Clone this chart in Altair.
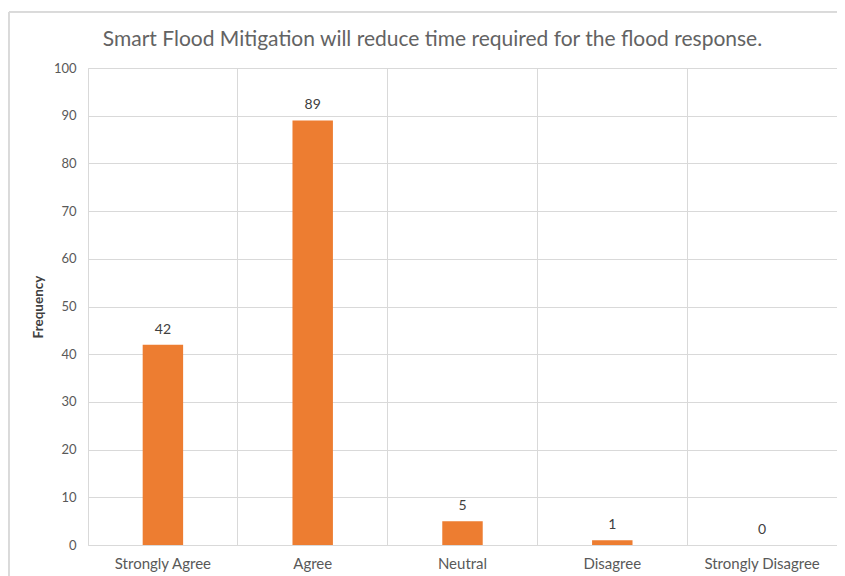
import altair as alt
import pandas as pd

categories = ["Strongly Agree", "Agree", "Neutral", "Disagree", "Strongly Disagree"]
frequency = [42, 89, 5, 1, 0]
y_ticks = list(range(0, 101, 10))

df = pd.DataFrame({"Response": categories, "Frequency": frequency})

FONT = "Lato"
W, H = 749, 477

base = alt.Chart(df).encode(
    x=alt.X(
        "Response:N",
        sort=categories,
        scale=alt.Scale(paddingInner=0, paddingOuter=0),
        axis=alt.Axis(
            title=None, labelAngle=0, domain=False, ticks=False, grid=True,
            bandPosition=0, gridColor="#d9d9d9", labelFontSize=15,
            labelColor="#595959", labelPadding=11, labelFont=FONT,
        ),
    ),
    y=alt.Y(
        "Frequency:Q",
        scale=alt.Scale(domain=[0, 100], nice=False),
        axis=alt.Axis(
            values=y_ticks, title="Frequency", titleFontSize=13.5, titleFontWeight="bold",
            titleColor="#404040", titlePadding=8, titleFont=FONT,
            domain=False, ticks=False, gridColor="#d9d9d9", labelFontSize=13,
            labelColor="#595959", labelPadding=12, labelFont=FONT,
        ),
    ),
)

# faint outer chart-area border (decoration)
frame = alt.Chart(df).mark_rect(fill=None, stroke="#d9d9d9", strokeWidth=1).encode(
    x=alt.value(-79), x2=alt.value(W + 300), y=alt.value(-56), y2=alt.value(H + 300)
)

bars = base.mark_bar(width=alt.RelativeBandSize(0.27), color="#ED7D31")
labels = base.mark_text(dy=-8, baseline="bottom", fontSize=14, color="#404040", font=FONT).encode(
    text="Frequency:Q"
)

chart = (
    alt.layer(frame, bars, labels)
    .properties(
        width=W,
        height=H,
        title=alt.TitleParams(
            "Smart Flood Mitigation will reduce time required for the flood response.",
            fontSize=21, font=FONT, color="#636363", fontWeight="normal",
            offset=-38, dx=-30, anchor="middle", frame="group",
        ),
        autosize=alt.AutoSizeParams(type="none"),
        padding={"left": 80, "top": 60, "right": 0, "bottom": 31},
    )
    .configure_view(fill="#f1f1f1", stroke="#d9d9d9")
    .configure(background="white")
)

chart.save("out.html", embed_options={"renderer": "svg", "actions": False})
